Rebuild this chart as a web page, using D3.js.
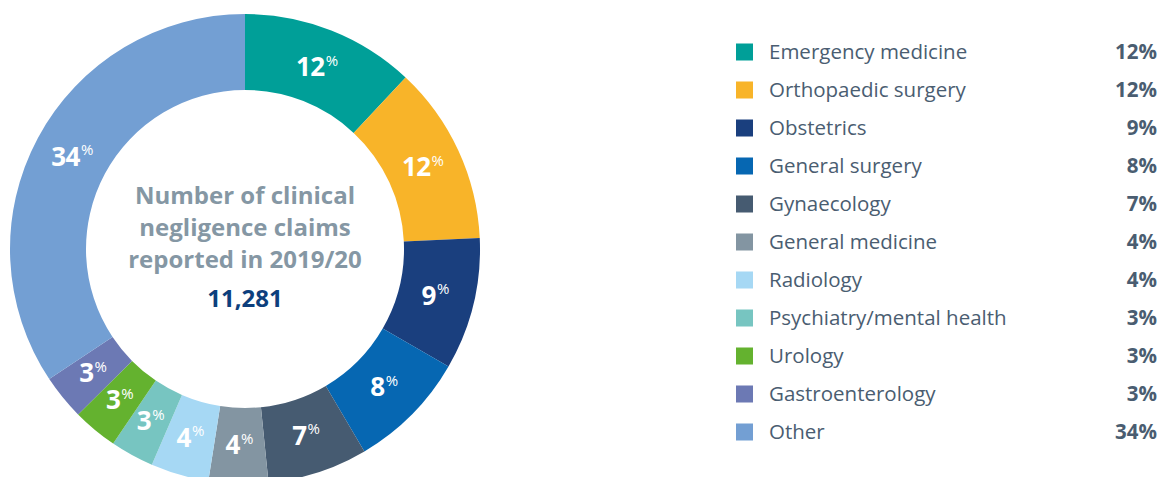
<!DOCTYPE html>
<html><head><meta charset="utf-8">
<script src="https://cdn.jsdelivr.net/npm/d3@7"></script>
<style>html,body{margin:0;padding:0;background:#fff;}svg{display:block;}</style>
</head><body>
<svg id="c" width="1160" height="477"></svg>
<script>
const categories = ["Emergency medicine","Orthopaedic surgery","Obstetrics","General surgery","Gynaecology","General medicine","Radiology","Psychiatry/mental health","Urology","Gastroenterology","Other"];
const shares = [12.0, 12.3, 9.1, 8.2, 6.9, 4.1, 4.0, 3.0, 3.1, 3.1, 34.4];
const labels = ["12","12","9","8","7","4","4","3","3","3","34"];
const colors = ["#009f98","#f8b429","#1a3f7e","#0667b2","#465b71","#8395a2","#a6d8f4","#77c5c1","#64b22f","#6c79b4","#739fd3"];
const centerLines = ["Number of clinical","negligence claims","reported in 2019/20"];
const totalClaims = "11,281";

const svg = d3.select("#c");
const cx = 245, cy = 249, R = 235, r = 159;
const g = svg.append("g").attr("transform", `translate(${cx},${cy})`);
const data = categories.map((c,i)=>({cat:c, v:shares[i], lab:labels[i], col:colors[i]}));
const pie = d3.pie().value(d=>d.v).sort(null);
const arc = d3.arc().innerRadius(r).outerRadius(R);
const labArc = d3.arc().innerRadius(196).outerRadius(196);
const arcs = pie(data);
g.selectAll("path.s").data(arcs).enter().append("path").attr("class","s")
  .attr("d", arc).attr("fill", d=>d.data.col);

const lt = g.selectAll("text.l").data(arcs).enter().append("text").attr("class","l")
  .attr("transform", d=>`translate(${labArc.centroid(d)})`)
  .attr("text-anchor","middle").attr("fill","#fff")
  .style("font-family","'Open Sans', sans-serif").style("font-weight","700");
lt.append("tspan").attr("dy","0.36em").style("font-size","26px").style("letter-spacing","-0.5px").text(d=>d.data.lab);
lt.append("tspan").attr("dx","1").attr("dy","-0.7em").style("font-size","15px").style("font-weight","400").text("%");

const ct = g.append("g").style("font-family","'Open Sans', sans-serif").style("font-weight","700").attr("text-anchor","middle");
centerLines.forEach((t,i)=>{
  ct.append("text").attr("y", -45 + i*32).attr("fill","#8597a4").style("font-size","24px").text(t);
});
ct.append("text").attr("y", 58).attr("fill","#0d3f7d").style("font-size","24px").text(totalClaims);

const leg = svg.append("g").style("font-family","'Open Sans', sans-serif");
const y = d3.scaleBand().domain(categories).range([33, 451]);
const rows = leg.selectAll("g.r").data(data).enter().append("g").attr("class","r")
  .attr("transform", d=>`translate(0,${y(d.cat) + y.bandwidth()/2})`);
rows.append("rect").attr("x",736).attr("y",-8.5).attr("width",17).attr("height",17).attr("fill", d=>d.col);
rows.append("text").attr("x",769).attr("dy","0.36em").attr("fill","#4a5d71").style("font-size","20.5px").text(d=>d.cat);
rows.append("text").attr("x",1157).attr("dy","0.36em").attr("text-anchor","end").attr("fill","#4a5d71").style("font-size","20.5px").style("font-weight","700").text(d=>d.lab+"%");
</script>
</body></html>
